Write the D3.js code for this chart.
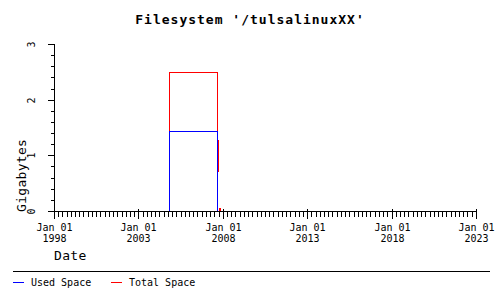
<!DOCTYPE html>
<html>
<head>
<meta charset="utf-8">
<script src="https://cdn.jsdelivr.net/npm/d3@7"></script>
<style>
  html, body { margin: 0; padding: 0; background: #fff; }
  svg { display: block; }
  text { font-family: "DejaVu Sans Mono", monospace; fill: #000; }
</style>
</head>
<body>
<svg id="chart" width="500" height="300"></svg>
<script>
// ---- data ----
const title = "Filesystem '/tulsalinuxXX'";
const yTitle = "Gigabytes";
const xTitle = "Date";
const seriesNames = ["Used Space", "Total Space"];
const seriesColors = ["#0000ff", "#ff0000"];

// step series: [date, value in GB] (value holds until next point; null = unknown)
const usedDates  = ["1998-01-01", "2004-11-01", "2007-09-06", "2023-01-01"];
const usedValues = [0, 1.43, 0, 0];

const totalDates  = ["1998-01-01", "2004-11-01", "2007-09-04", "2007-09-25", "2007-09-28", "2007-10-03", "2007-10-08", "2007-11-08", "2023-01-01"];
const totalValues = [0, 2.5, 1.28, 0.72, null, 0, 0.05, 0, 0];

const xTickYears = [1998, 2003, 2008, 2013, 2018, 2023];
const yTicks = [0, 1, 2, 3];

// ---- drawing ----
const parse = d3.timeParse("%Y-%m-%d");
const svg = d3.select("#chart");

const x = d3.scaleTime()
  .domain([new Date(1998, 0, 1), new Date(2023, 0, 1)])
  .rangeRound([54, 476]);
const y = d3.scaleLinear().domain([0, 3]).rangeRound([211, 44]);

const g = svg.append("g").attr("transform", "translate(0.5,0.5)");

// title
svg.append("text")
  .attr("x", 250).attr("y", 24)
  .attr("text-anchor", "middle")
  .attr("font-size", 13).attr("font-weight", "bold")
  .attr("letter-spacing", 1)
  .text(title);

// lines
const line = d3.line()
  .defined(d => d[1] !== null)
  .x(d => x(d[0])).y(d => y(d[1]))
  .curve(d3.curveStepAfter);

const totalData = totalDates.map((d, i) => [parse(d), totalValues[i]]);
const usedData = usedDates.map((d, i) => [parse(d), usedValues[i]]);

g.append("path").datum(totalData)
  .attr("d", line).attr("fill", "none")
  .attr("stroke", seriesColors[1]).attr("stroke-width", 1)
  .attr("shape-rendering", "crispEdges");
g.append("path").datum(usedData)
  .attr("d", line).attr("fill", "none")
  .attr("stroke", seriesColors[0]).attr("stroke-width", 1)
  .attr("shape-rendering", "crispEdges");

// x axis (minor quarterly ticks + major ticks)
const xMinor = d3.timeMonth.every(3).range(x.domain()[0], d3.timeDay.offset(x.domain()[1], 1));
g.append("line")
  .attr("x1", x.range()[0]).attr("x2", x.range()[1])
  .attr("y1", y(0)).attr("y2", y(0))
  .attr("stroke", "#000").attr("shape-rendering", "crispEdges");
g.selectAll(".xminor").data(xMinor).enter().append("line")
  .attr("x1", d => x(d)).attr("x2", d => x(d))
  .attr("y1", y(0)).attr("y2", y(0) + 5)
  .attr("stroke", "#000").attr("shape-rendering", "crispEdges");
const xMajor = xTickYears.map(yr => new Date(yr, 0, 1));
g.selectAll(".xmajor").data(xMajor).enter().append("line")
  .attr("x1", d => x(d)).attr("x2", d => x(d))
  .attr("y1", y(0) - 3).attr("y2", y(0) + 7)
  .attr("stroke", "#000").attr("shape-rendering", "crispEdges");
const xlab = svg.selectAll(".xlab").data(xMajor).enter().append("text")
  .attr("text-anchor", "middle")
  .attr("font-size", 10);
xlab.append("tspan").attr("x", d => x(d) + 0.5).attr("y", 231).text(d => d3.timeFormat("%b %d")(d));
xlab.append("tspan").attr("x", d => x(d) + 0.5).attr("y", 242).text(d => d3.timeFormat("%Y")(d));

// y axis
g.append("line")
  .attr("x1", x.range()[0]).attr("x2", x.range()[0])
  .attr("y1", y(0)).attr("y2", y(3))
  .attr("stroke", "#000").attr("shape-rendering", "crispEdges");
const yMinor = d3.range(0, 3.0001, 0.2);
g.selectAll(".yminor").data(yMinor).enter().append("line")
  .attr("x1", x.range()[0] - 4).attr("x2", x.range()[0])
  .attr("y1", d => y(d)).attr("y2", d => y(d))
  .attr("stroke", "#000").attr("shape-rendering", "crispEdges");
g.selectAll(".ymajor").data(yTicks).enter().append("line")
  .attr("x1", x.range()[0] - 7).attr("x2", x.range()[0])
  .attr("y1", d => y(d)).attr("y2", d => y(d))
  .attr("stroke", "#000").attr("shape-rendering", "crispEdges");
svg.selectAll(".ylab").data(yTicks).enter().append("text")
  .attr("transform", d => `translate(35,${y(d) + 0.5}) rotate(-90)`)
  .attr("text-anchor", "middle")
  .attr("font-size", 10)
  .text(d => d);

// axis titles
svg.append("text")
  .attr("transform", "translate(26,212) rotate(-90)")
  .attr("text-anchor", "start")
  .attr("font-size", 13).attr("letter-spacing", 0.3)
  .text(yTitle);
svg.append("text")
  .attr("x", 54).attr("y", 260)
  .attr("font-size", 13).attr("letter-spacing", 0.3)
  .text(xTitle);

// legend
g.append("line").attr("x1", 12).attr("x2", 489).attr("y1", 271).attr("y2", 271)
  .attr("stroke", "#000").attr("shape-rendering", "crispEdges");
const legX = [12, 110];
seriesNames.forEach((name, i) => {
  g.append("line")
    .attr("x1", legX[i]).attr("x2", legX[i] + 11)
    .attr("y1", 282).attr("y2", 282)
    .attr("stroke", seriesColors[i]).attr("shape-rendering", "crispEdges");
  svg.append("text")
    .attr("x", legX[i] + 19).attr("y", 286)
    .attr("font-size", 10)
    .text(name);
});
</script>
</body>
</html>
